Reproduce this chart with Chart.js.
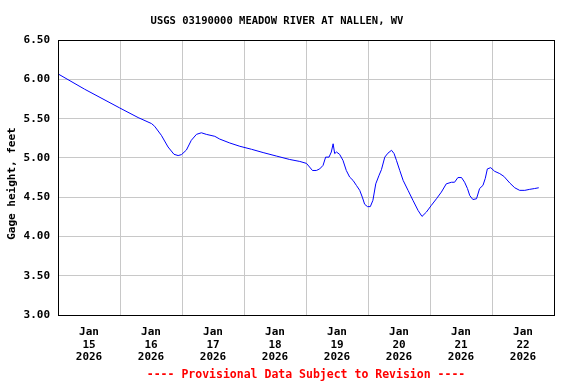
<!DOCTYPE html>
<html>
<head>
<meta charset="utf-8">
<script src="https://cdn.jsdelivr.net/npm/chart.js@4"></script>
<style>
  html, body { margin: 0; padding: 0; background: #fff; }
  #wrap { width: 576px; height: 384px; }
</style>
</head>
<body>
<div id="wrap"><canvas id="chart" width="576" height="384"></canvas></div>
<script>
// hours since Jan 15 2026 00:00
const hours = [0, 10.3, 23.9, 31.0, 36.2, 37.4, 40.0, 42.6, 44.9, 46.5, 47.8, 49.7, 51.6, 53.6, 55.5,
  57.4, 60.7, 62.6, 66.5, 70.4, 74.9, 79.4, 84.5, 89.7, 93.6, 96.2, 98.5, 100.0, 101.3, 102.6,
  103.6, 104.9, 105.8, 106.5, 107.1, 107.8, 109.0, 110.3, 111.6, 112.9, 114.2, 115.5, 116.8,
  117.8, 118.7, 119.8, 120.9, 121.9, 123.0, 124.3, 125.2, 126.5, 127.7, 129.1, 130.1, 131.0,
  132.3, 133.6, 135.5, 137.4, 139.4, 140.9, 142.6, 144.5, 146.5, 148.4, 150.3, 152.3, 153.5,
  154.8, 156.2, 157.4, 158.5, 159.4, 160.6, 162.0, 163.2, 164.5, 165.4, 166.2, 167.5, 169.0,
  171.0, 172.6, 174.9, 176.8, 178.7, 180.7, 182.6, 184.5, 186.1];
// gage height, feet
const gageHeight = [6.07, 5.875, 5.636, 5.514, 5.437, 5.403, 5.288, 5.139, 5.046, 5.03, 5.042, 5.10,
  5.224, 5.30, 5.32, 5.30, 5.275, 5.24, 5.19, 5.148, 5.11, 5.068, 5.024, 4.98, 4.955, 4.93, 4.84,
  4.84, 4.86, 4.905, 5.01, 5.01, 5.075, 5.18, 5.055, 5.075, 5.046, 4.97, 4.84, 4.756, 4.714,
  4.65, 4.587, 4.50, 4.41, 4.38, 4.38, 4.46, 4.67, 4.78, 4.85, 5.01, 5.06, 5.097, 5.055, 4.97,
  4.84, 4.714, 4.587, 4.46, 4.33, 4.255, 4.31, 4.395, 4.48, 4.565, 4.67, 4.69, 4.69, 4.75, 4.75,
  4.69, 4.61, 4.52, 4.47, 4.48, 4.61, 4.65, 4.74, 4.86, 4.876, 4.83, 4.80, 4.765, 4.68, 4.62,
  4.587, 4.587, 4.60, 4.61, 4.62];

const dayLabels = ['15', '16', '17', '18', '19', '20', '21', '22'];
const monthLabel = 'Jan';
const yearLabel = '2026';
const yTicks = [3.0, 3.5, 4.0, 4.5, 5.0, 5.5, 6.0, 6.5];
const yTitle = 'Gage height, feet';
const footNote = '---- Provisional Data Subject to Revision ----';

const FONT = '"DejaVu Sans Mono", "Liberation Mono", monospace';

// box around the plot area, y title, red note centred under the plot
const extras = {
  id: 'extras',
  afterDraw(chart) {
    const { ctx, chartArea: a } = chart;
    ctx.save();
    ctx.strokeStyle = '#000';
    ctx.lineWidth = 1;
    ctx.strokeRect(Math.round(a.left) + 0.5, Math.round(a.top) + 0.5,
      Math.round(a.right - a.left), Math.round(a.bottom - a.top));

    ctx.textAlign = 'center';
    ctx.textBaseline = 'middle';

    ctx.fillStyle = '#ff0000';
    ctx.font = 'bold 11.5px ' + FONT;
    ctx.fillText(footNote, (a.left + a.right) / 2, 375.5);

    ctx.fillStyle = '#000';
    ctx.font = 'bold 11px ' + FONT;
    ctx.translate(12, (a.top + a.bottom) / 2 + 6);
    ctx.rotate(-Math.PI / 2);
    ctx.fillText(yTitle, 0, 0);
    ctx.restore();
  }
};

new Chart(document.getElementById('chart'), {
  type: 'line',
  data: {
    datasets: [{
      data: hours.map((h, i) => ({ x: h, y: gageHeight[i] })),
      borderColor: '#0000ff',
      borderWidth: 1,
      pointRadius: 0,
      tension: 0,
      fill: false
    }]
  },
  options: {
    responsive: false,
    animation: false,
    layout: { padding: { left: 0, right: 22, top: 0, bottom: 17 } },
    plugins: {
      legend: { display: false },
      tooltip: { enabled: false },
      title: {
        display: true,
        text: 'USGS 03190000 MEADOW RIVER AT NALLEN, WV',
        color: '#000',
        font: { family: FONT, size: 10.5, weight: 'bold' },
        padding: { top: 15, bottom: 12.5 }
      }
    },
    scales: {
      x: {
        type: 'linear',
        min: 0,
        max: dayLabels.length * 24,
        afterBuildTicks: (scale) => {
          const t = [];
          for (let v = 0; v <= dayLabels.length * 24; v += 12) t.push({ value: v });
          scale.ticks = t;
        },
        afterFit: (scale) => { scale.height = 52; },
        grid: {
          drawTicks: false,
          color: (c) => (c.tick && c.tick.value % 24 === 0) ? '#c8c8c8' : 'rgba(0,0,0,0)'
        },
        border: { color: '#000' },
        ticks: {
          maxRotation: 0,
          autoSkip: false,
          padding: 11,
          color: '#000',
          font: { family: FONT, size: 11, weight: 'bold', lineHeight: 1.15 },
          callback: (v) => {
            if (v % 24 !== 12) return '';
            return [monthLabel, dayLabels[Math.floor(v / 24)], yearLabel];
          }
        }
      },
      y: {
        min: yTicks[0],
        max: yTicks[yTicks.length - 1],
        afterBuildTicks: (scale) => { scale.ticks = yTicks.map(v => ({ value: v })); },
        afterFit: (scale) => { scale.width = 58; },
        grid: { drawTicks: false, color: '#c8c8c8' },
        border: { color: '#000' },
        ticks: {
          padding: 8,
          color: '#000',
          font: { family: FONT, size: 11, weight: 'bold' },
          callback: (v) => Number(v).toFixed(2)
        }
      }
    }
  },
  plugins: [extras]
});
</script>
</body>
</html>
